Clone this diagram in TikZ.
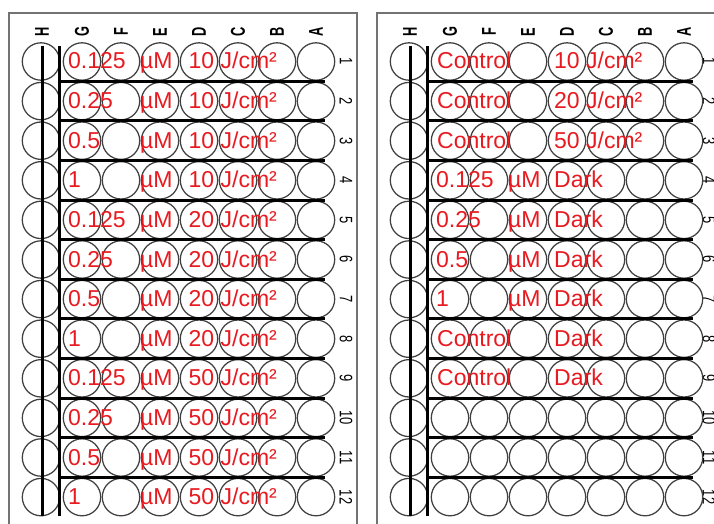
\documentclass[tikz,border=0pt]{standalone}
\usepackage{fontspec}
\setmainfont{Liberation Sans}
\definecolor{doseRed}{RGB}{232,26,32}
\tikzset{
  well/.style={circle, draw=black!75, line width=1.25pt, minimum size=37.4pt, inner sep=0pt},
  divider/.style={line width=3pt},
  plateframe/.style={draw=black!55, line width=1.3pt},
  treat/.style={anchor=base west, inner sep=0pt, text=doseRed, font=\fontsize{23}{23}\selectfont},
  collabel/.style={rotate=90, inner sep=0pt, font=\bfseries\fontsize{20}{20}\selectfont},
  rowlabel/.style={rotate=-90, inner sep=0pt, font=\fontsize{18}{18}\selectfont}
}
\begin{document}
\begin{tikzpicture}[x=1pt, y=-1pt]
  \useasboundingbox (0,0) rectangle (714,524);
  \fill[white] (0,0) rectangle (714,524);
  \clip (0,0) rectangle (714,524);
  % Two plates, the right one shifted
  \foreach \plate/\dx/\nx in {L/0/346, R/368/341}{
    \begin{scope}[xshift=\dx]
      % Frame (open at the bottom)
      \draw[plateframe] (9,540) -- (9,13) -- (357,13) -- (357,540);
      % Column letters
      \foreach \col/\cx in {H/42, G/82, F/121, E/160, D/199, C/238, B/277, A/316}
        \node[collabel] (\plate-\col) at (\cx,32) {\scalebox{0.64}[1]{\col}};
      % Wells and row numbers
      \foreach \row in {1,...,12}{
        \pgfmathsetmacro{\cy}{61.5+39.6*(\row-1)}
        \node[rowlabel] (\plate-\row) at (\nx,\cy) {\scalebox{0.72}[1]{\row}};
        \foreach \col/\cx in {H/41, G/82, F/121, E/160, D/199, C/238, B/277, A/316}
          \node[well] (\plate-\col\row) at (\cx,\cy) {};
      }
      % Bars between the rows
      \foreach \row in {1,...,11}{
        \pgfmathsetmacro{\by}{61.5+39.6*(\row-0.5)}
        \draw[divider] (59,\by) -- (325,\by);
      }
      % Upright bars
      \draw[divider] (42.5,46) -- (42.5,516);
      \draw[divider] (59,46) -- (59,516);
    \end{scope}
  }
  % Left plate: concentration and fluence
  \foreach \row/\conc/\fluence in {1/0.125/10, 2/0.25/10, 3/0.5/10, 4/1/10,
      5/0.125/20, 6/0.25/20, 7/0.5/20, 8/1/20,
      9/0.125/50, 10/0.25/50, 11/0.5/50, 12/1/50}{
    \pgfmathsetmacro{\ty}{69+39.6*(\row-1)}
    \node[treat] (L-conc\row) at (68,\ty) {\conc};
    \node[treat] (L-unit\row) at (140,\ty) {µM};
    \node[treat] (L-dose\row) at (188.5,\ty) {\fluence\ J/cm²};
  }
  % Right plate: controls and dark wells
  \node[treat] (R-conc1) at (437,69) {Control};
  \node[treat] (R-dose1) at (554,69) {10 J/cm²};
  \node[treat] (R-conc2) at (437,108.6) {Control};
  \node[treat] (R-dose2) at (554,108.6) {20 J/cm²};
  \node[treat] (R-conc3) at (437,148.2) {Control};
  \node[treat] (R-dose3) at (554,148.2) {50 J/cm²};
  \node[treat] (R-conc4) at (436,187.8) {0.125};
  \node[treat] (R-unit4) at (508,187.8) {µM};
  \node[treat] (R-dose4) at (554,187.8) {Dark};
  \node[treat] (R-conc5) at (436,227.4) {0.25};
  \node[treat] (R-unit5) at (508,227.4) {µM};
  \node[treat] (R-dose5) at (554,227.4) {Dark};
  \node[treat] (R-conc6) at (436,267) {0.5};
  \node[treat] (R-unit6) at (508,267) {µM};
  \node[treat] (R-dose6) at (554,267) {Dark};
  \node[treat] (R-conc7) at (436,306.6) {1};
  \node[treat] (R-unit7) at (508,306.6) {µM};
  \node[treat] (R-dose7) at (554,306.6) {Dark};
  \node[treat] (R-conc8) at (437,346.2) {Control};
  \node[treat] (R-dose8) at (554,346.2) {Dark};
  \node[treat] (R-conc9) at (437,385.8) {Control};
  \node[treat] (R-dose9) at (554,385.8) {Dark};
\end{tikzpicture}
\end{document}
